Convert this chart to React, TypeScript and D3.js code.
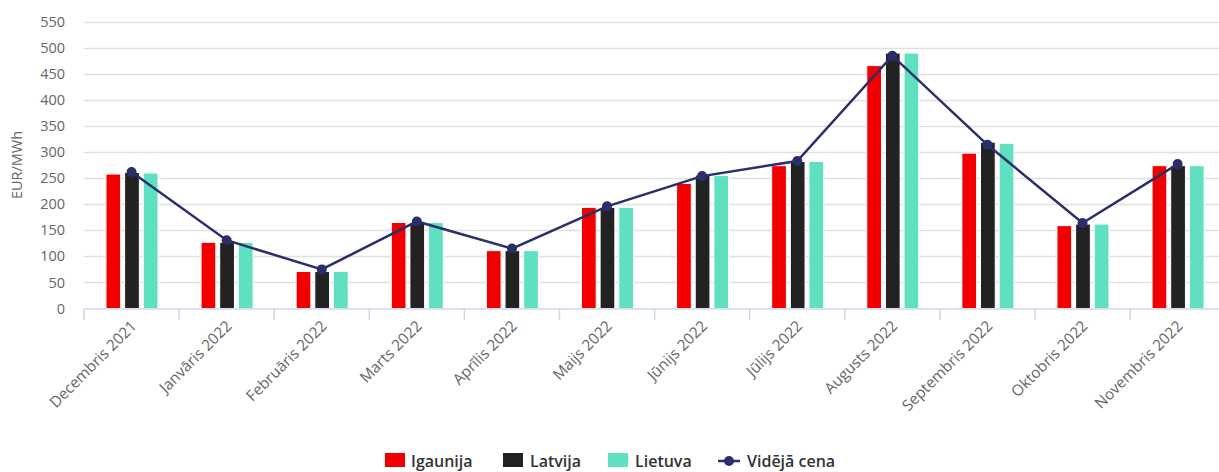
import * as d3 from 'd3';

const months = [
  'Decembris 2021',
  'Janvāris 2022',
  'Februāris 2022',
  'Marts 2022',
  'Aprīlis 2022',
  'Maijs 2022',
  'Jūnijs 2022',
  'Jūlijs 2022',
  'Augusts 2022',
  'Septembris 2022',
  'Oktobris 2022',
  'Novembris 2022',
];
const igaunija = [258, 127, 71, 165, 111, 194, 240, 274, 466, 298, 159, 274];
const latvija = [261, 127, 71, 165, 111, 194, 256, 282, 490, 319, 162, 274];
const lietuva = [260, 127, 71, 165, 111, 194, 255, 282, 490, 317, 162, 274];
const videjaCena = [262, 131, 75, 167, 115, 196, 254, 283, 485, 314, 164, 277];
const yTicks = [0, 50, 100, 150, 200, 250, 300, 350, 400, 450, 500, 550];

const barSeries = [
  { name: 'Igaunija', values: igaunija, color: '#f20000' },
  { name: 'Latvija', values: latvija, color: '#222222' },
  { name: 'Lietuva', values: lietuva, color: '#5fe0c1' },
];
const lineColor = '#2a2f6c';
const font = "'Open Sans', 'DejaVu Sans', sans-serif";

export default function App() {
  const width = 1219;
  const height = 472;
  const left = 84;
  const step = 95.1;
  const right = left + step * months.length;

  const x = d3.scaleBand().domain(months).range([left, right]).padding(0);
  const y = d3.scaleLinear().domain([0, 550]).range([308.5, 21.8]);
  const bw = x.bandwidth();
  const x1 = d3
    .scaleBand()
    .domain(barSeries.map((s) => s.name))
    .range([bw * 0.231, bw * 0.778])
    .paddingInner(0.21)
    .paddingOuter(0);

  const line = d3
    .line<number>()
    .x((_, i) => x(months[i])! + bw / 2)
    .y((d) => y(d));

  const legendItems = [
    { name: 'Igaunija', color: '#f20000', sx: 385, tx: 411 },
    { name: 'Latvija', color: '#222222', sx: 503, tx: 530 },
    { name: 'Lietuva', color: '#5fe0c1', sx: 608, tx: 635 },
  ];

  return (
    <svg width={width} height={height} style={{ position: 'absolute', left: 0, top: 0 }} fontFamily={font}>
      <rect width={width} height={height} fill="#fff" />
      {/* grid */}
      {yTicks.slice(1).map((t) => (
        <line key={t} x1={left} x2={width} y1={Math.round(y(t)) + 0.5} y2={Math.round(y(t)) + 0.5} stroke="#e0e0e0" strokeWidth={1.5} />
      ))}
      {/* y labels */}
      {yTicks.map((t) => (
        <text key={t} x={65} y={y(t)} dy="0.35em" textAnchor="end" fontSize={14.5} fill="#666">
          {t}
        </text>
      ))}
      <text transform={`translate(22,165) rotate(-90)`} textAnchor="middle" fontSize={14.5} fill="#666">
        EUR/MWh
      </text>
      {/* bars */}
      {months.map((m, i) => (
        <g key={m} transform={`translate(${x(m)},0)`}>
          {barSeries.map((s) => (
            <rect
              key={s.name}
              x={x1(s.name)}
              y={y(s.values[i])}
              width={x1.bandwidth()}
              height={y(0) - y(s.values[i])}
              fill={s.color}
              stroke="#fff"
              strokeWidth={1}
            />
          ))}
        </g>
      ))}
      {/* x axis */}
      <line x1={left} x2={width} y1={309} y2={309} stroke="#ccd6eb" strokeWidth={1.5} />
      {[...months.map((m) => x(m)!), right].map((tx, i) => (
        <line key={i} x1={tx} x2={tx} y1={309} y2={320} stroke="#ccd6eb" strokeWidth={1.5} />
      ))}
      {months.map((m) => (
        <text
          key={m}
          transform={`translate(${x(m)! + bw / 2 + 6},${327}) rotate(-45)`}
          textAnchor="end"
          fontSize={15.3}
          fill="#666"
        >
          {m}
        </text>
      ))}
      {/* average line */}
      <path d={line(videjaCena)!} fill="none" stroke={lineColor} strokeWidth={2.5} />
      {videjaCena.map((v, i) => (
        <circle key={i} cx={x(months[i])! + bw / 2} cy={y(v)} r={5} fill={lineColor} />
      ))}
      {/* legend */}
      {legendItems.map((l) => (
        <g key={l.name}>
          <rect x={l.sx} y={453} width={20} height={14} fill={l.color} />
          <text x={l.tx} y={461} dy="0.35em" fontSize={16} fontWeight={600} fill="#333">
            {l.name}
          </text>
        </g>
      ))}
      <line x1={718} x2={740} y1={461} y2={461} stroke={lineColor} strokeWidth={2.5} />
      <circle cx={729} cy={461} r={5} fill={lineColor} />
      <text x={747} y={461} dy="0.35em" fontSize={16} fontWeight={600} fill="#333">
        Vidējā cena
      </text>
    </svg>
  );
}
